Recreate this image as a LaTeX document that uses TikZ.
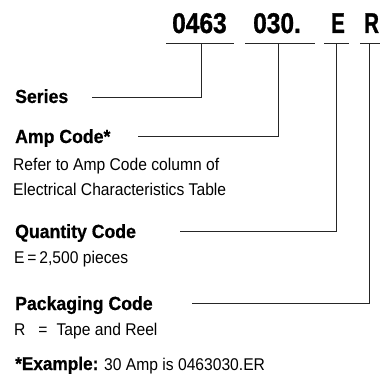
\documentclass[tikz,border=0pt]{standalone}
\usepackage{fontspec}
\setmainfont{Liberation Sans}
\newfontfamily\hcond{Liberation Sans}[FakeStretch=0.93,FakeBold=0.6]
\newfontfamily\rcond{Liberation Sans}[FakeStretch=0.92]
\newfontfamily\bigcond{Liberation Sans}[FakeStretch=0.86,FakeBold=1]
\newfontfamily\letcond{Liberation Sans}[FakeStretch=0.72,FakeBold=1]
\begin{document}
\begin{tikzpicture}[x=1pt,y=-1pt,
  codetext/.style={font=\bigcond\bfseries\fontsize{28.5}{30}\selectfont, anchor=base west, inner sep=0pt},
  lettertext/.style={font=\letcond\bfseries\fontsize{28.5}{30}\selectfont, anchor=base west, inner sep=0pt},
  headtext/.style={font=\hcond\bfseries\fontsize{19}{22}\selectfont, anchor=base west, inner sep=0pt},
  bodytext/.style={font=\rcond\fontsize{17}{20}\selectfont, anchor=base west, inner sep=0pt},
  link/.style={line width=0.9pt, draw=black!85}]
\useasboundingbox (0,0) rectangle (380,377);
% codes
\node[codetext] (c1) at (172,33) {0463};
\node[codetext] (c2) at (253,33) {030.};
\node[lettertext] (c3) at (331,33) {E};
\node[lettertext] (c4) at (364,33) {R};
% underlines
\coordinate (u1a) at (166,43); \coordinate (u1b) at (234,43);
\coordinate (u2a) at (245,43); \coordinate (u2b) at (315,43);
\coordinate (u3a) at (324,43); \coordinate (u3b) at (349,43);
\coordinate (u4a) at (360,43); \coordinate (u4b) at (380,43);
\draw[link] (u1a) -- (u1b);
\draw[link] (u2a) -- (u2b);
\draw[link] (u3a) -- (u3b);
\draw[link] (u4a) -- (u4b);
% labels
\node[headtext] (series) at (15,103) {Series};
\node[headtext] (amp) at (15,143) {Amp Code*};
\node[bodytext] (ref1) at (13,170) {Refer to Amp Code column of};
\node[bodytext] (ref2) at (13,195) {Electrical Characteristics Table};
\node[headtext] (qty) at (15,238) {Quantity Code};
\node[bodytext] (qe) at (14,263) {E\,=\,2,500 pieces};
\node[headtext] (pkg) at (15,310) {Packaging Code};
\node[bodytext] (pr) at (14,335) {R\hspace{13pt}=\hspace{9pt}Tape and Reel};
\node[bodytext] (ex) at (15,370) {{\hcond\bfseries\fontsize{18.5}{20}\selectfont *Example:} 30 Amp is 0463030.ER};
% connectors
\coordinate (s0) at (92,97);   \coordinate (s1) at (201.5,43);
\coordinate (a0) at (138,136); \coordinate (a1) at (278,43);
\coordinate (q0) at (180,231); \coordinate (q1) at (336.7,43);
\coordinate (p0) at (192,303); \coordinate (p1) at (369,43);
\draw[link] (s0) -| (s1);
\draw[link] (a0) -| (a1);
\draw[link] (q0) -| (q1);
\draw[link] (p0) -| (p1);
\end{tikzpicture}
\end{document}
